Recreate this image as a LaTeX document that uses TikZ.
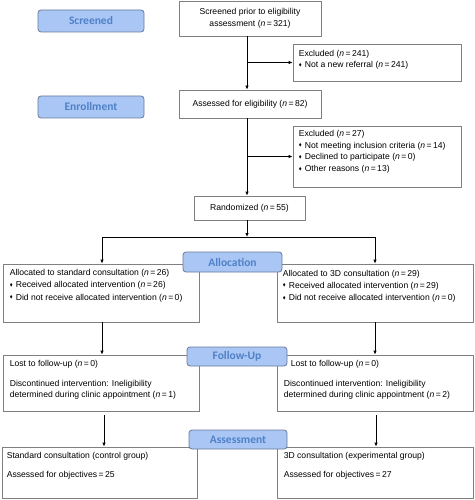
\documentclass[tikz,border=0pt]{standalone}
\usepackage{fontspec}
\usepackage{amssymb}
\setmainfont{Liberation Sans}
\newfontfamily\stagefont{Carlito}
\usetikzlibrary{arrows.meta}
\newcommand{\ncount}[1]{(\textit{n}\,=\,#1)}
\newcommand{\bul}{\makebox[6pt][l]{\raisebox{0.3ex}{\scalebox{0.5}{$\blacklozenge$}}}}
\definecolor{stagefill}{HTML}{A9C6F5}
\definecolor{stagetext}{HTML}{4F81C7}
\definecolor{stageline}{HTML}{6A7A99}
\definecolor{boxline}{HTML}{808080}

\begin{document}
\begin{tikzpicture}[x=1pt, y=-1pt,
    font=\fontsize{8.6}{12}\selectfont,
    box/.style={draw=boxline, line width=0.8pt, inner sep=0pt, align=center},
    stage/.style={draw=stageline, fill=stagefill, rounded corners=3pt, line width=0.8pt,
        text=stagetext, inner sep=0pt, font=\stagefont\bfseries\fontsize{11.5}{12}\selectfont},
    txt/.style={anchor=north west, inner sep=0pt, align=left},
    arr/.style={-{Latex[length=4pt,width=3.5pt]}, line width=0.8pt}]
    \useasboundingbox (0,0) rectangle (474,500);

    % boxes
    \node[box, minimum width=142, minimum height=35] (screen) at (250,18.5)
        {Screened prior to eligibility\\assessment \ncount{321}};
    \node[box, minimum width=168, minimum height=37] (excl1) at (377,62.5) {};
    \node[box, minimum width=142, minimum height=28] (assessed) at (250,104)
        {Assessed for eligibility \ncount{82}};
    \node[box, minimum width=168, minimum height=61] (excl2) at (377,156.5) {};
    \node[box, minimum width=111, minimum height=24] (rand) at (249.5,208)
        {Randomized \ncount{55}};
    \node[box, minimum width=196, minimum height=58] (allocL) at (101,293) {};
    \node[box, minimum width=196, minimum height=58] (allocR) at (375,293) {};
    \node[box, minimum width=196, minimum height=56] (fuL) at (101,383) {};
    \node[box, minimum width=196, minimum height=56] (fuR) at (375,383) {};
    \node[box, minimum width=195, minimum height=51] (asL) at (99.5,472.5) {};
    \node[box, minimum width=196, minimum height=51] (asR) at (375,472.5) {};

    % texts in the boxes
    \node[txt] (excl1text) at ([shift={(6,6.5)}]excl1.north west)
        {Excluded \ncount{241}\\[-0.8pt]
         \bul Not a new referral \ncount{241}};
    \node[txt] (excl2text) at ([shift={(6,4.5)}]excl2.north west)
        {Excluded \ncount{27}\\[-0.3pt]
         \bul Not meeting inclusion criteria \ncount{14}\\[-0.3pt]
         \bul Declined to participate \ncount{0}\\[-0.3pt]
         \bul Other reasons \ncount{13}};
    \node[txt] (allocLtext) at ([shift={(7,5.5)}]allocL.north west)
        {Allocated to standard consultation \ncount{26}\\[0.3pt]
         \bul Received allocated intervention \ncount{26}\\[0.3pt]
         \bul Did not receive allocated intervention \ncount{0}};
    \node[txt] (allocRtext) at ([shift={(6,6)}]allocR.north west)
        {Allocated to 3D consultation \ncount{29}\\[0.3pt]
         \bul Received allocated intervention \ncount{29}\\[0.3pt]
         \bul Did not receive allocated intervention \ncount{0}};
    \node[txt] (fuLtext) at ([shift={(7,5.5)}]fuL.north west)
        {Lost to follow-up \ncount{0}\\[8pt]
         Discontinued intervention: Ineligibility\\[-1pt]
         determined during clinic appointment \ncount{1}};
    \node[txt] (fuRtext) at ([shift={(7,5.5)}]fuR.north west)
        {\hspace*{7pt}Lost to follow-up \ncount{0}\\[8pt]
         Discontinued intervention: Ineligibility\\[-1pt]
         determined during clinic appointment \ncount{2}};
    \node[txt] (asLtext) at ([shift={(5,5.5)}]asL.north west)
        {Standard consultation (control group)\\[7pt]
         Assessed for objectives\,=\,25};
    \node[txt] (asRtext) at ([shift={(7,5.5)}]asR.north west)
        {3D consultation (experimental group)\\[7pt]
         Assessed for objectives\,=\,27};

    % stage labels
    \node[stage, minimum width=106, minimum height=22] (screened) at (91,21) {Screened};
    \node[stage, minimum width=106, minimum height=22] (enrollment) at (91,107) {Enrollment};
    \node[stage, minimum width=99, minimum height=20] (allocation) at (232.5,262) {Allocation};
    \node[stage, minimum width=100, minimum height=19] (followup) at (237,356.5) {Follow-Up};
    \node[stage, minimum width=98, minimum height=19] (assessment) at (238,439.5) {Assessment};

    % connectors
    \coordinate (trunk) at (247,0);
    \coordinate (split) at (247,237);
    \coordinate (splitL) at (102,237);
    \coordinate (splitR) at (375,237);
    \coordinate (dropL) at (104,0);
    \coordinate (dropR) at (376,0);
    \draw[arr] (screen.south -| trunk) -- (assessed.north -| trunk);
    \draw[arr] (trunk |- excl1.west) -- (excl1.west);
    \draw[arr] (assessed.south -| trunk) -- (rand.north -| trunk);
    \draw[arr] (trunk |- excl2.west) -- (excl2.west);
    \draw[arr] (rand.south -| trunk) -- (split);
    \draw[line width=0.8pt] (splitL) -- (splitR);
    \draw[arr] (splitL) -- (splitL |- allocL.north);
    \draw[arr] (splitR) -- (splitR |- allocR.north);
    \draw[arr] (allocL.south -| splitL) -- (fuL.north -| splitL);
    \draw[arr] (allocR.south -| splitR) -- (fuR.north -| splitR);
    \draw[arr, shorten <=4pt] (fuL.south -| dropL) -- (asL.north -| dropL);
    \draw[arr, shorten <=4pt] (fuR.south -| dropR) -- (asR.north -| dropR);
\end{tikzpicture}
\end{document}
